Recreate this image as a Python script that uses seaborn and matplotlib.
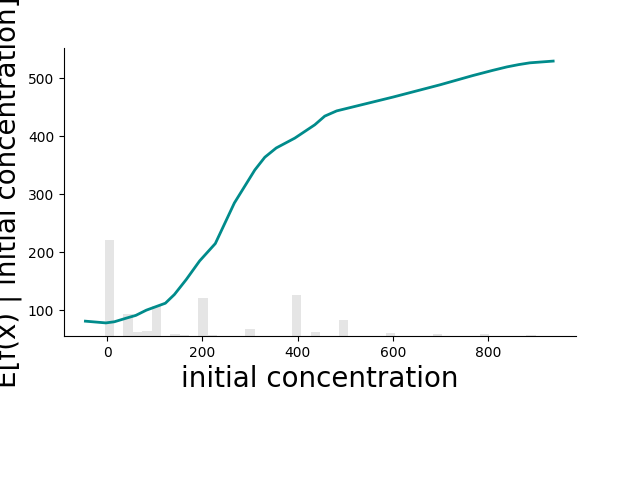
"""
Partial dependence of the model output on initial concentration,
with the feature distribution drawn as a faint histogram underneath.
"""
import matplotlib
matplotlib.use('Agg')
import matplotlib.pyplot as plt
import seaborn as sns

# partial dependence curve
conc = [-46, -3, 15, 39, 60, 82, 102, 122, 141, 166, 194, 227,
        267, 310, 331, 355, 394, 436, 457, 482, 601, 699, 768,
        810, 840, 865, 888, 937]
expected = [81, 78, 80, 86, 91, 100, 106, 112, 127, 153, 185, 215,
            285, 342, 364, 380, 397, 420, 435, 444, 468, 489, 505,
            514, 520, 524, 527, 530]

# feature distribution: observed values and how often they appear
hist_values = [0, 50, 60, 80, 100, 150, 160, 200, 220, 300,
               400, 440, 500, 600, 700, 800, 900]
hist_counts = [96, 22, 4, 5, 30, 2, 1, 38, 1, 7,
               41, 4, 16, 3, 2, 2, 1]
hist_range = (-45, 940)
n_bins = 50
hist_ymax = 288

fig, ax = plt.subplots(figsize=(6.4, 4.8), dpi=100)
fig.subplots_adjust(left=0.1, right=0.9, top=0.9, bottom=0.3)

# histogram on a hidden twin axis
ax2 = ax.twinx()
sns.histplot(x=hist_values, weights=hist_counts, bins=n_bins,
             binrange=hist_range, color='black', alpha=0.1,
             linewidth=0, ax=ax2)
ax2.set_ylim(0, hist_ymax)
ax2.set_yticks([])
ax2.set_ylabel('')
for spine in ax2.spines.values():
    spine.set_visible(False)

# line drawn on top
ax.set_zorder(ax2.get_zorder() + 1)
ax.patch.set_visible(False)
sns.lineplot(x=conc, y=expected, color='#008b8b', linewidth=2, ax=ax)

ax.set_xlim(-91, 985)
ax.set_xlabel('initial concentration', fontsize=20)
ax.set_ylabel('E[f(x) | initial concentration]', fontsize=20)
ax.spines['top'].set_visible(False)
ax.spines['right'].set_visible(False)

plt.savefig('out.png', dpi=100)
plt.close()
